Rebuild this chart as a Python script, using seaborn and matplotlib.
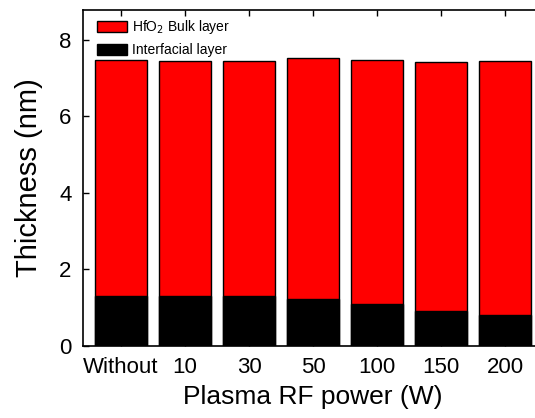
import matplotlib
matplotlib.use('Agg')
import matplotlib.pyplot as plt
import numpy as np
import pandas as pd
import seaborn as sns
from matplotlib.patches import Patch

# Values
power = ['Without', '10', '30', '50', '100', '150', '200']
total = [7.46, 7.44, 7.45, 7.51, 7.47, 7.41, 7.45]
interfacial = [1.30, 1.30, 1.30, 1.22, 1.09, 0.91, 0.81]

df = pd.DataFrame({'power': power, 'total': total, 'interfacial': interfacial})

sns.set_style('ticks')
plt.rcParams['font.family'] = ['Liberation Sans', 'DejaVu Sans']
plt.rcParams['text.color'] = 'black'
plt.rcParams['axes.labelcolor'] = 'black'
plt.rcParams['xtick.color'] = 'black'
plt.rcParams['ytick.color'] = 'black'

fig = plt.figure(figsize=(5.35, 4.18), dpi=100)
ax = fig.add_axes([0.1546, 0.172, 0.861, 0.804])

sns.barplot(data=df, x='power', y='total', color='#ff0000', saturation=1,
            width=0.81, edgecolor='black', linewidth=1, ax=ax)
sns.barplot(data=df, x='power', y='interfacial', color='black', saturation=1,
            width=0.81, edgecolor='black', linewidth=1, ax=ax)

ax.set_xlim(-0.6, 6.6)
ax.set_ylim(0, 8.77)
ax.set_yticks([0, 2, 4, 6, 8])

ax.set_xlabel('Plasma RF power (W)', fontsize=19, labelpad=5)
ax.set_ylabel('Thickness (nm)', fontsize=21, labelpad=12)
ax.tick_params(axis='both', direction='in', labelsize=16, width=1, length=4)
ax.tick_params(axis='x', top=True, pad=8)
ax.tick_params(axis='y', pad=8)

for side in ['left', 'bottom', 'top', 'right']:
    ax.spines[side].set_visible(True)
    ax.spines[side].set_linewidth(1.2)
    ax.spines[side].set_color('black')

handles = [Patch(facecolor='#ff0000', edgecolor='black', label='HfO$_2$ Bulk layer'),
           Patch(facecolor='black', edgecolor='black', label='Interfacial layer')]
ax.legend(handles=handles, loc='upper left', frameon=False, fontsize=10,
          handlelength=2.2, handleheight=0.8, handletextpad=0.35,
          labelspacing=0.5, borderaxespad=0.2, bbox_to_anchor=(0.012, 1.0))

fig.savefig('out.png', dpi=100)
